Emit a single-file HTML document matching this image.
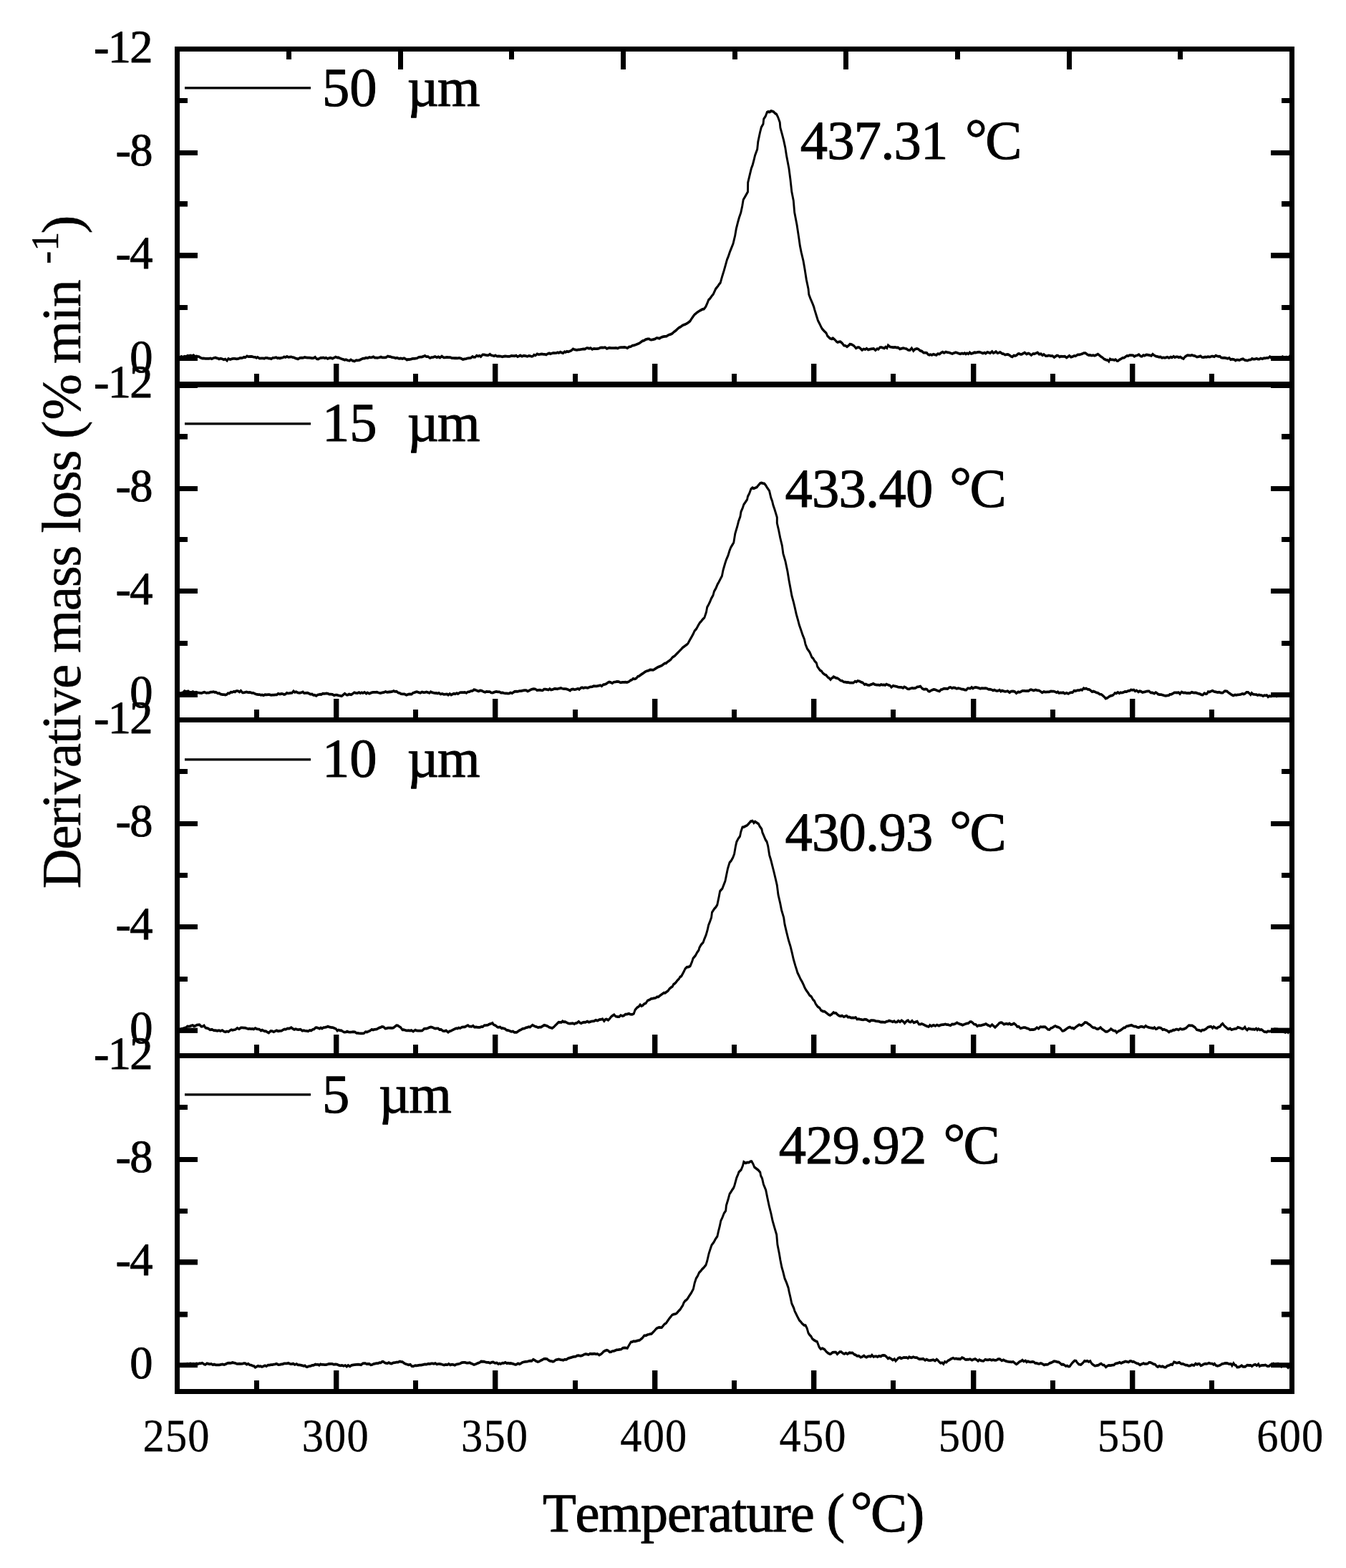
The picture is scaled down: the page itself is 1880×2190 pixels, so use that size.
<!DOCTYPE html>
<html lang="en"><head><meta charset="utf-8"><title>Derivative mass loss vs temperature</title>
<style>html,body{margin:0;padding:0;background:#fff}svg{display:block}text{font-family:"Liberation Serif",serif;fill:#000;font-kerning:none;font-variant-ligatures:none;text-rendering:geometricPrecision}</style></head><body>
<svg width="1880" height="2190" viewBox="0 0 1880 2190">
<rect width="1880" height="2190" fill="#fff"/>
<g fill="none" stroke="#000" stroke-width="2.9" stroke-linejoin="miter" stroke-miterlimit="3" stroke-linecap="butt">
<path transform="scale(1 1.3)" d="M251.0 384.23 253.2 382.95 255.2 383.61 257.8 382.77 259.9 383.24 262.0 382.14 264.1 382.36 265.9 381.95 268.1 382.44 270.3 381.58 272.7 383.16 274.4 382.67 276.2 383.03 277.8 383.23 280.3 384.44 282.7 385.10 284.2 384.98 286.9 385.37 289.5 385.34 291.8 385.27 294.0 384.89 295.7 385.62 297.3 384.98 299.4 384.41 301.0 384.18 302.4 384.67 304.5 385.03 305.9 385.73 308.1 385.13 310.2 385.55 312.6 386.44 314.7 385.82 317.1 387.47 318.9 385.37 321.4 386.21 323.5 385.67 325.3 385.30 327.9 385.28 330.6 385.70 333.2 385.24 335.5 384.50 337.3 384.66 339.2 384.33 341.0 383.71 342.6 384.06 345.0 382.60 347.0 383.24 349.5 383.07 351.5 383.05 354.1 383.50 356.6 383.76 358.1 384.55 359.8 383.72 362.5 385.08 364.6 384.96 367.3 384.83 369.2 385.17 370.8 384.50 373.0 384.57 375.5 385.02 377.3 385.11 379.0 385.62 380.8 384.52 383.4 384.39 385.9 384.01 387.5 384.90 389.4 384.53 390.9 385.00 392.5 384.50 395.0 384.24 396.7 383.40 398.9 383.80 400.9 382.90 402.6 383.77 405.0 383.47 406.7 383.31 408.9 384.01 410.6 384.09 412.6 384.99 414.3 385.20 416.1 385.69 418.8 384.58 421.3 384.37 423.1 384.56 425.7 383.87 427.4 384.06 429.4 384.38 432.0 384.26 434.1 384.59 435.9 384.90 438.5 384.48 440.3 383.62 442.2 385.56 444.5 385.77 446.4 385.04 448.3 384.32 449.9 384.48 451.5 384.13 453.8 384.78 455.5 384.40 457.6 385.38 459.7 384.71 461.7 384.45 464.4 385.29 466.4 384.52 468.6 383.51 471.3 384.29 472.5 384.06 474.6 384.79 477.1 385.60 479.8 386.21 481.5 386.73 483.2 386.24 485.5 387.11 488.1 387.59 490.0 386.44 492.6 387.61 495.2 388.17 497.4 387.01 499.3 387.20 500.9 387.07 502.4 386.80 505.0 385.75 507.0 385.14 509.2 385.07 511.1 384.36 513.6 384.75 515.8 383.82 517.7 384.06 519.4 383.87 521.7 383.26 523.3 384.30 525.0 384.39 527.2 384.47 529.7 384.04 532.0 383.50 533.9 384.07 536.4 384.09 538.2 384.07 539.7 383.79 541.6 382.67 543.6 383.09 545.1 383.11 546.8 383.72 548.6 384.01 550.9 384.23 552.6 384.89 554.5 384.41 557.2 385.27 559.8 385.02 562.1 385.51 564.4 384.82 566.7 385.71 568.3 386.61 569.8 386.05 571.4 386.27 574.0 385.92 576.4 385.31 578.9 385.35 580.4 385.10 582.7 384.82 585.0 383.76 587.3 383.61 589.1 383.53 591.7 382.82 593.5 382.13 595.4 383.17 598.0 383.20 600.5 384.66 602.9 383.94 605.2 383.67 607.7 383.01 610.2 383.99 612.2 383.27 614.5 384.30 617.1 382.71 619.7 384.08 621.7 384.17 624.1 383.71 626.6 383.99 628.9 384.02 631.1 384.64 633.1 384.67 635.2 384.81 637.4 384.75 639.1 384.87 641.3 384.56 644.0 385.14 646.5 386.10 649.0 385.64 650.9 385.42 653.4 384.82 655.4 384.62 657.7 384.48 660.0 383.06 661.7 383.79 664.0 383.66 665.6 381.98 667.8 382.73 669.8 382.20 671.6 383.23 674.0 381.11 676.1 381.08 678.4 381.48 680.9 381.74 682.7 381.49 684.3 380.55 686.0 381.65 688.4 382.12 690.1 382.57 691.8 381.78 694.3 382.82 696.6 382.66 699.0 382.70 701.5 383.27 703.1 382.97 705.5 382.70 707.2 382.84 709.2 383.05 711.7 382.99 714.4 382.22 716.9 382.37 718.7 382.50 721.0 381.88 722.9 383.22 724.6 382.73 726.7 381.85 729.1 382.86 731.7 382.14 734.1 382.38 736.7 382.99 738.6 382.19 740.2 382.34 742.4 383.03 744.2 382.75 745.8 381.29 747.9 381.92 750.2 380.19 752.3 380.88 754.0 380.71 756.6 380.23 759.4 380.60 761.3 380.65 762.9 381.13 764.4 380.33 767.0 379.44 768.6 380.20 770.9 379.59 773.0 379.10 775.0 379.32 777.4 379.06 779.0 378.61 780.5 379.16 782.7 378.07 784.1 378.74 786.5 379.37 788.5 377.81 790.0 378.44 791.8 377.55 793.9 377.91 795.9 377.26 798.1 376.61 800.4 374.87 802.9 375.72 805.7 376.05 808.0 375.67 809.7 375.59 811.8 375.38 813.4 375.12 814.9 374.84 817.1 375.02 819.4 373.96 821.2 373.92 822.9 374.42 824.9 373.94 827.2 375.31 829.4 374.49 831.5 374.67 833.9 374.75 835.8 374.54 838.4 373.56 841.0 373.45 842.6 373.52 845.2 373.18 847.6 374.60 849.2 374.07 851.3 373.66 853.6 373.96 856.1 373.88 858.1 374.02 860.3 373.73 862.8 374.27 865.3 373.30 867.9 373.18 869.9 373.11 872.3 372.95 873.9 373.29 876.3 373.94 878.8 372.51 881.0 372.37 883.4 371.20 885.3 371.13 887.8 370.43 890.4 369.58 893.2 368.70 895.6 367.30 897.5 366.28 899.6 365.94 901.9 364.63 904.7 364.16 906.8 364.10 908.2 364.90 910.3 365.07 912.4 364.63 915.0 364.17 916.9 363.19 918.5 363.10 921.1 363.63 922.5 362.93 925.0 362.00 926.7 361.59 928.7 361.35 931.1 361.18 932.7 360.28 934.7 359.64 936.8 359.13 939.1 358.27 941.3 356.59 943.6 355.41 946.1 353.55 948.3 352.13 951.0 350.98 952.6 349.99 954.2 349.21 956.8 348.62 958.6 347.79 960.6 347.01 963.9 344.98 965.9 342.53 968.2 339.93 970.2 337.89 971.4 337.16 973.4 335.79 976.3 334.34 978.3 333.45 980.7 332.44 983.4 331.89 985.9 329.27 988.2 325.22 989.6 322.32 991.8 320.61 994.1 318.09 996.3 315.96 998.5 312.29 999.6 310.41 1003.0 307.14 1004.6 305.22 1006.2 303.72 1008.8 296.67 1011.3 290.48 1013.4 284.72 1015.6 278.64 1017.3 275.48 1019.4 270.71 1021.3 266.96 1024.0 261.74 1026.7 253.07 1028.3 245.81 1030.4 239.28 1032.3 234.09 1034.8 228.38 1036.7 221.55 1038.2 214.57 1041.0 210.81 1044.5 205.98 1044.7 196.02 1047.3 187.58 1049.4 180.88 1051.2 177.25 1053.3 171.07 1054.6 166.94 1057.7 160.34 1058.8 152.26 1061.4 142.66 1063.3 136.81 1066.0 133.07 1066.7 127.89 1069.3 124.79 1071.3 120.67 1073.0 120.03 1075.1 120.33 1076.9 119.25 1078.5 119.46 1080.6 120.20 1082.9 121.99 1084.6 122.65 1086.6 125.82 1089.2 131.33 1089.9 137.13 1092.3 144.03 1094.7 151.10 1096.8 158.65 1098.6 167.51 1101.9 180.79 1103.9 192.56 1105.8 205.94 1108.3 215.65 1109.7 228.16 1113.1 241.79 1115.8 255.57 1117.4 264.29 1119.2 271.14 1122.0 280.23 1123.9 288.62 1126.3 300.36 1129.0 310.22 1129.8 316.39 1132.0 320.82 1135.0 326.26 1136.7 329.64 1137.8 332.74 1139.9 338.12 1142.4 344.28 1145.4 348.79 1146.3 350.46 1148.3 353.31 1151.2 355.79 1153.1 357.08 1154.4 358.41 1155.6 360.82 1159.1 363.54 1161.8 364.25 1163.3 363.31 1165.8 364.78 1168.4 367.09 1169.9 367.67 1172.0 367.20 1173.8 367.11 1176.0 368.49 1177.3 369.75 1178.6 371.14 1181.2 371.51 1183.0 372.58 1185.5 371.05 1186.9 369.80 1188.8 369.94 1190.7 370.51 1193.0 371.71 1195.5 374.05 1198.0 373.18 1199.8 373.21 1201.4 374.14 1204.1 376.08 1206.2 374.91 1208.6 375.39 1210.5 374.43 1212.5 375.75 1214.6 375.25 1216.7 374.97 1218.9 374.72 1220.4 374.55 1222.8 376.35 1225.2 374.62 1226.9 375.24 1229.1 373.12 1231.5 373.24 1233.5 373.81 1235.2 374.22 1236.9 372.73 1238.9 373.97 1240.4 370.91 1243.0 372.63 1245.6 373.07 1247.9 373.27 1250.3 373.06 1252.6 373.46 1254.6 373.40 1256.8 375.02 1258.9 374.50 1261.6 373.93 1264.1 374.44 1265.9 374.75 1268.5 376.11 1270.9 376.26 1273.3 373.97 1275.8 376.98 1277.8 375.23 1280.7 374.60 1282.8 375.16 1285.0 376.66 1288.1 377.55 1289.8 378.93 1292.1 378.98 1294.5 379.05 1296.0 380.66 1298.0 381.30 1299.9 380.86 1301.6 381.55 1303.4 380.51 1305.7 381.10 1308.0 381.48 1309.6 380.08 1312.4 380.38 1314.5 378.95 1316.6 378.12 1318.6 379.20 1321.0 378.04 1323.2 378.53 1325.2 378.67 1327.8 379.45 1330.1 380.07 1332.5 379.26 1334.9 378.59 1337.5 379.27 1339.0 379.74 1341.3 380.18 1343.7 379.50 1345.5 380.05 1347.5 379.37 1349.0 380.39 1350.8 379.48 1352.7 380.28 1354.4 378.63 1356.2 379.93 1358.7 379.48 1360.9 378.66 1363.0 378.84 1365.7 378.45 1367.8 378.21 1370.5 378.80 1372.8 379.67 1375.3 378.83 1376.8 379.82 1379.0 378.28 1381.5 378.93 1383.1 379.33 1385.7 377.69 1387.4 379.30 1389.4 378.65 1391.1 377.66 1393.2 379.45 1395.6 378.84 1396.8 378.40 1399.9 380.03 1401.5 380.05 1403.8 381.23 1406.0 380.94 1407.9 380.68 1409.7 381.50 1412.1 382.86 1414.0 383.37 1416.0 381.94 1418.6 382.20 1420.3 381.38 1421.8 380.21 1423.2 379.96 1425.3 380.61 1427.1 380.63 1429.4 379.66 1431.1 378.78 1433.8 380.46 1436.2 379.56 1437.8 380.00 1440.4 381.57 1443.1 379.99 1444.7 380.29 1447.2 379.47 1449.3 378.83 1451.3 380.54 1454.1 380.21 1456.0 381.72 1457.9 380.79 1460.5 382.42 1462.8 382.37 1464.9 381.85 1467.6 382.35 1470.1 382.41 1472.4 383.88 1474.0 383.05 1476.3 381.91 1478.3 382.33 1480.0 383.47 1481.5 382.86 1483.8 382.93 1485.6 383.03 1487.4 382.89 1489.8 384.31 1491.8 383.19 1493.6 382.15 1495.8 383.70 1497.9 383.21 1500.3 382.30 1502.3 382.60 1505.2 381.08 1507.6 381.06 1509.8 380.57 1511.6 380.12 1513.7 379.27 1516.1 379.29 1518.8 380.90 1520.7 381.52 1522.4 381.43 1524.7 381.93 1526.9 381.69 1529.0 382.16 1531.3 381.28 1533.5 380.39 1536.0 382.02 1538.0 383.32 1539.9 384.10 1541.8 385.58 1544.8 386.63 1547.2 386.97 1548.8 388.38 1550.4 385.69 1552.2 386.44 1554.2 386.37 1556.5 386.87 1558.1 386.23 1560.2 387.79 1561.8 387.67 1563.4 386.57 1565.7 385.62 1567.8 384.55 1570.2 384.32 1572.2 383.20 1574.1 382.24 1576.1 382.37 1577.7 381.60 1580.2 381.71 1582.7 381.86 1584.3 382.95 1585.9 382.29 1588.5 381.74 1590.7 380.94 1593.1 382.74 1594.9 382.97 1596.9 381.65 1598.8 382.17 1601.1 381.07 1603.1 381.19 1605.4 381.65 1608.2 382.25 1610.0 380.51 1612.2 381.84 1614.6 382.88 1617.1 383.15 1619.2 383.63 1621.1 383.43 1622.7 384.41 1625.3 384.09 1626.8 384.54 1628.4 384.10 1630.6 383.58 1632.7 384.53 1635.1 383.55 1636.9 384.14 1639.3 382.81 1640.8 384.04 1642.6 383.44 1645.0 383.41 1646.5 384.07 1648.6 383.44 1650.7 384.56 1653.1 385.36 1654.9 383.45 1656.7 382.48 1658.6 381.62 1661.2 381.76 1662.9 382.00 1664.6 381.43 1666.7 381.98 1669.0 382.32 1671.7 383.59 1674.2 383.20 1676.9 382.60 1678.8 383.84 1681.4 383.92 1683.2 383.34 1685.0 383.71 1687.1 383.22 1689.8 383.60 1692.3 382.74 1694.1 382.85 1696.1 383.30 1698.1 381.91 1699.8 382.47 1701.9 382.96 1703.9 382.89 1705.5 384.23 1707.8 384.44 1710.2 384.32 1712.3 384.77 1714.8 385.28 1717.1 384.51 1718.7 386.30 1721.1 385.87 1723.7 386.17 1725.6 387.38 1727.1 386.72 1729.1 386.62 1731.3 387.02 1733.5 386.05 1736.3 385.62 1738.5 386.85 1740.9 387.21 1742.5 387.45 1744.7 386.57 1747.1 386.46 1748.7 385.34 1750.3 385.86 1752.7 385.90 1755.3 385.15 1756.9 385.94 1759.1 385.88 1760.8 384.95 1763.2 385.61 1765.5 384.81 1767.3 384.96 1769.0 384.47 1771.5 384.58 1773.6 383.16 1776.0 384.81 1778.0 384.71 1779.9 385.55 1782.6 385.56 1784.9 385.21 1786.9 385.63 1789.1 383.90 1791.5 383.11 1793.8 385.04 1796.4 383.72 1798.4 385.82 1800.9 383.14 1801.0 385.62"/>
<path transform="scale(1 1.3)" d="M251.0 744.62 253.1 744.47 255.5 744.09 257.7 742.39 259.4 742.88 260.8 743.07 262.8 742.54 264.6 743.62 267.1 743.83 269.4 743.16 271.7 744.07 273.9 743.62 276.2 744.18 277.7 744.29 279.8 744.43 281.5 744.63 284.0 743.97 285.7 743.56 288.1 744.54 289.7 744.41 292.0 744.33 294.0 743.57 296.0 743.50 298.4 743.16 300.0 743.84 301.6 743.64 304.2 744.89 306.4 744.76 307.7 745.66 310.8 746.20 313.1 746.32 314.9 746.63 317.0 745.94 318.4 744.75 320.4 745.04 322.3 743.61 324.5 743.81 326.7 742.94 328.3 743.39 329.9 742.39 332.4 742.45 334.4 743.50 336.4 742.04 338.6 744.12 340.7 744.06 342.6 743.67 344.2 743.46 346.6 743.91 349.1 743.83 351.8 744.47 354.2 744.50 356.1 745.44 358.0 745.84 360.5 746.20 362.7 746.19 364.3 746.73 366.1 746.48 368.0 747.11 370.1 746.34 372.6 746.46 374.7 746.29 376.2 746.28 378.7 746.82 380.9 746.61 382.8 746.64 384.6 746.36 386.7 746.47 388.4 745.28 391.1 745.86 392.8 745.35 394.8 745.42 396.7 746.14 398.9 745.74 400.4 744.49 402.3 744.82 404.2 744.78 406.4 744.52 408.0 744.37 410.0 742.43 411.8 743.77 413.7 743.26 415.7 744.10 418.3 744.53 420.4 744.19 423.1 743.40 424.7 744.72 427.4 744.45 429.3 744.43 431.1 744.93 433.4 745.85 436.0 745.78 437.6 746.74 439.3 746.71 441.8 747.61 443.7 746.51 445.5 746.33 447.0 745.98 448.6 746.15 450.9 745.21 453.4 745.31 456.2 744.98 458.3 745.28 459.7 745.91 461.8 745.90 464.4 746.11 466.8 747.09 468.7 746.58 470.7 746.66 473.0 747.16 474.7 747.35 477.2 747.87 478.9 746.79 481.5 745.13 484.2 746.64 485.8 746.60 487.6 745.83 490.4 746.35 492.1 745.60 494.8 744.03 496.8 744.52 499.3 744.71 501.5 743.88 503.3 744.82 505.1 744.07 506.9 744.69 509.2 743.74 511.6 745.17 513.2 744.07 515.8 745.14 517.8 744.49 519.6 743.98 521.6 743.72 524.3 743.71 526.5 743.53 528.7 744.22 531.3 744.75 534.0 744.21 536.5 743.80 538.4 743.04 540.6 743.70 543.2 743.46 545.6 743.27 547.9 743.01 549.8 742.27 551.4 742.92 553.9 742.88 556.4 744.31 557.9 744.43 560.1 745.41 562.8 745.62 565.0 745.73 567.7 746.71 570.4 745.93 572.5 745.71 575.0 745.83 576.9 744.40 578.5 744.16 580.4 743.61 582.2 743.27 584.9 743.89 587.2 744.41 589.4 743.44 591.6 743.94 593.2 744.01 595.5 743.38 597.8 743.88 599.7 744.55 601.5 743.24 603.5 743.99 605.5 744.34 607.8 744.62 609.4 744.49 611.0 745.00 613.0 744.52 615.3 745.86 617.7 745.30 619.9 746.03 622.6 745.86 624.5 745.72 626.0 746.68 628.2 745.30 630.1 746.56 631.9 745.89 634.1 745.23 635.9 745.59 638.1 744.70 639.6 745.53 642.3 744.13 643.8 743.86 645.8 743.95 647.7 743.97 649.4 743.71 651.4 744.55 653.2 743.45 655.8 743.21 657.8 742.36 660.1 742.21 661.9 741.01 664.0 741.22 666.2 742.05 668.7 742.72 670.4 741.86 672.5 741.94 675.2 743.12 677.6 743.72 679.5 743.03 681.5 743.24 684.0 743.20 685.8 744.08 688.3 744.30 690.5 743.56 693.1 742.97 695.3 743.40 697.6 743.34 699.5 744.27 702.0 744.11 703.8 744.60 705.8 744.97 707.7 744.99 709.7 745.15 711.4 744.86 713.1 744.18 715.4 744.80 717.1 743.80 718.7 743.05 721.1 742.84 723.0 742.90 725.6 742.44 727.8 742.42 729.8 741.98 732.3 741.56 734.9 741.60 736.8 742.61 738.5 742.23 740.8 741.15 743.1 740.51 745.5 740.17 747.9 740.36 749.9 741.64 752.1 741.42 753.9 741.35 755.9 741.71 757.9 741.80 759.8 740.55 761.8 740.47 764.3 740.82 766.1 741.18 767.8 740.01 769.5 741.23 772.3 740.71 774.2 739.91 775.9 740.00 778.4 740.32 781.0 739.64 783.4 739.25 785.4 739.81 787.8 740.17 789.6 740.08 791.3 740.26 793.8 740.91 796.3 741.92 798.0 740.71 800.6 740.39 802.2 740.78 803.9 740.69 805.4 740.34 807.4 739.76 809.0 740.80 811.3 739.09 813.1 738.61 814.9 739.31 816.6 738.81 818.5 738.70 821.0 739.14 823.3 738.27 824.9 737.89 827.3 737.80 829.3 737.10 831.3 737.21 833.7 737.24 835.8 736.75 838.5 736.26 840.4 737.14 842.8 735.38 844.7 735.29 847.0 734.57 848.9 733.45 850.9 732.69 853.0 733.19 855.4 734.00 857.2 732.88 859.8 732.66 861.9 732.31 864.4 732.41 866.8 733.39 869.4 732.95 871.7 732.92 873.8 732.80 875.7 733.08 878.4 732.31 880.8 730.86 882.6 730.43 884.3 729.12 885.9 729.52 887.7 729.24 889.2 728.39 890.8 726.75 892.5 726.52 894.0 725.56 895.7 724.62 898.0 723.48 900.7 721.92 903.2 720.94 905.8 720.46 908.0 719.53 910.9 719.76 912.3 719.91 913.8 719.17 916.5 717.92 918.9 716.75 920.6 716.25 923.3 715.33 924.8 714.77 927.2 713.41 928.8 712.53 930.4 712.52 932.1 711.26 934.4 710.16 937.0 708.49 939.3 706.15 942.3 704.79 945.1 702.45 946.9 701.07 948.9 699.52 951.6 697.41 953.4 695.88 956.1 694.38 957.1 693.67 959.7 692.34 961.0 691.19 963.2 688.00 965.8 684.45 968.6 680.55 970.0 678.04 972.7 675.56 974.9 672.40 977.4 669.15 979.7 667.23 981.3 665.57 983.9 663.59 986.5 657.57 987.7 652.31 989.7 649.62 991.6 646.55 993.4 643.17 996.0 639.60 997.4 635.44 1000.0 631.90 1002.2 627.80 1004.0 625.40 1006.4 621.71 1008.4 618.88 1010.0 612.54 1012.7 605.42 1014.3 601.57 1017.0 596.70 1019.0 591.60 1020.7 588.22 1022.9 585.40 1024.8 582.92 1026.8 573.35 1030.0 564.98 1031.6 559.99 1033.9 555.05 1035.0 549.83 1037.3 545.66 1038.8 542.10 1041.2 539.43 1043.6 536.63 1044.4 533.53 1046.7 530.12 1048.9 525.41 1051.0 523.99 1052.9 524.75 1055.3 524.04 1057.3 523.36 1059.0 521.53 1061.7 519.22 1063.5 518.77 1065.9 519.26 1067.5 519.44 1069.2 521.08 1071.3 523.65 1074.6 527.38 1076.8 534.68 1078.6 538.46 1080.0 542.90 1081.9 547.15 1085.3 555.82 1085.3 561.96 1087.4 568.77 1089.7 577.76 1092.4 586.35 1093.9 594.89 1096.9 602.78 1100.0 614.05 1102.0 623.62 1104.3 633.06 1105.9 639.93 1108.2 646.34 1110.1 652.48 1112.2 659.72 1114.7 666.71 1116.3 671.42 1118.7 676.68 1121.1 682.26 1123.5 686.84 1125.0 692.14 1127.4 696.87 1130.8 700.54 1132.4 703.29 1133.9 706.13 1135.8 707.38 1137.8 710.20 1140.4 712.31 1141.7 716.21 1145.2 720.03 1147.8 721.32 1149.0 722.99 1152.1 724.87 1153.9 725.40 1156.5 727.80 1157.8 728.39 1160.0 730.22 1161.2 728.97 1163.3 727.77 1164.2 727.06 1166.0 727.77 1168.0 728.52 1169.4 728.58 1172.1 729.85 1174.0 731.15 1176.2 731.46 1178.4 732.60 1180.8 732.75 1182.7 733.18 1184.3 733.00 1186.8 733.50 1189.4 733.48 1192.0 733.60 1194.3 731.96 1196.2 732.63 1197.9 731.44 1200.7 731.95 1202.6 732.83 1205.1 733.43 1207.6 735.47 1209.3 735.00 1211.5 735.96 1214.1 736.22 1215.7 735.69 1217.9 735.15 1219.6 734.51 1222.1 735.42 1224.6 735.78 1227.0 735.85 1229.0 736.25 1230.5 735.45 1232.6 735.84 1234.5 735.69 1236.5 736.10 1238.1 735.03 1240.5 735.93 1243.0 736.46 1245.0 738.34 1247.5 736.68 1250.1 737.28 1252.3 737.53 1254.4 738.19 1256.9 738.42 1258.9 738.44 1261.4 739.11 1263.0 737.94 1265.5 738.79 1267.5 740.08 1269.8 740.26 1272.5 739.41 1274.3 739.19 1276.1 739.46 1278.9 739.20 1281.2 738.03 1283.4 737.82 1285.6 737.30 1288.0 739.64 1290.5 740.70 1293.0 740.36 1294.7 740.54 1296.6 742.47 1298.2 742.88 1299.9 742.19 1301.4 741.46 1304.0 740.67 1305.7 740.77 1307.9 741.48 1309.6 742.10 1312.3 742.68 1314.4 740.81 1316.1 740.63 1318.6 739.69 1321.3 739.92 1323.7 740.10 1325.7 738.70 1327.6 738.36 1329.8 739.45 1331.7 738.70 1333.9 738.99 1336.2 739.91 1338.6 739.32 1341.1 739.80 1343.5 740.53 1345.3 740.48 1347.7 741.23 1349.8 741.21 1351.5 739.50 1353.0 739.45 1355.3 739.67 1357.2 738.37 1358.8 739.63 1360.9 738.67 1362.9 738.39 1364.8 738.72 1367.0 739.16 1369.1 739.82 1371.2 739.34 1373.9 739.58 1376.5 739.42 1378.4 739.71 1380.9 740.73 1382.7 740.55 1385.4 741.10 1387.0 741.90 1388.9 741.16 1391.5 742.29 1393.8 742.23 1396.1 741.31 1397.9 742.84 1399.5 741.97 1402.2 742.61 1403.8 742.95 1405.6 742.84 1407.5 742.50 1410.1 744.00 1412.2 742.73 1415.0 742.67 1417.4 743.16 1419.5 744.79 1422.2 743.35 1423.5 743.72 1425.5 743.33 1428.0 742.23 1430.8 742.22 1432.9 742.35 1435.0 742.15 1436.8 742.39 1438.6 741.13 1440.1 740.85 1441.8 741.36 1443.8 742.00 1446.4 741.16 1449.1 741.84 1451.2 741.87 1453.5 743.02 1455.6 744.16 1457.9 743.13 1460.3 743.57 1463.0 743.44 1465.5 743.34 1467.7 742.58 1469.9 742.82 1471.7 742.72 1473.7 743.30 1475.9 743.99 1477.5 743.30 1479.1 744.60 1481.3 744.24 1482.8 744.36 1485.2 744.08 1487.2 745.22 1489.8 744.45 1492.1 745.41 1494.2 744.26 1496.4 743.96 1498.2 744.01 1500.0 742.14 1502.6 742.30 1505.1 741.58 1507.6 741.69 1509.7 740.94 1511.5 741.45 1513.5 739.37 1515.3 740.07 1517.0 739.62 1519.4 740.72 1521.1 740.73 1522.8 741.42 1525.3 743.20 1527.1 742.74 1529.9 743.45 1531.5 744.19 1533.1 744.37 1536.0 745.80 1538.1 745.95 1540.2 747.25 1542.7 748.95 1544.2 750.44 1546.8 749.82 1549.1 748.36 1551.6 747.41 1553.0 747.38 1555.2 746.53 1557.1 744.61 1558.9 744.95 1561.4 743.81 1563.4 744.86 1565.0 744.04 1566.7 744.26 1568.6 744.00 1571.2 743.00 1573.6 743.17 1576.0 742.29 1577.9 742.15 1579.5 741.09 1582.0 741.36 1583.7 741.08 1585.4 742.62 1587.5 741.77 1590.0 743.46 1591.7 742.51 1593.5 742.78 1595.6 743.86 1597.5 743.53 1599.8 743.15 1601.4 742.70 1603.3 742.53 1605.0 742.54 1607.1 744.16 1609.6 744.23 1612.2 745.16 1614.3 743.87 1616.2 744.78 1617.2 745.71 1619.4 746.27 1621.9 746.32 1624.7 746.95 1626.0 747.24 1628.1 747.55 1630.7 747.21 1632.7 747.04 1633.8 746.02 1635.8 745.98 1638.4 745.06 1640.1 744.10 1642.5 744.08 1644.2 744.23 1646.4 744.03 1648.1 745.48 1650.3 743.40 1652.7 744.25 1655.3 744.11 1657.4 744.75 1660.0 744.52 1661.9 744.82 1664.6 743.68 1667.3 744.26 1670.0 744.23 1671.5 744.53 1673.4 745.18 1675.7 745.48 1678.3 746.38 1680.0 746.59 1682.2 744.80 1684.4 745.57 1686.1 745.11 1687.4 743.12 1689.2 743.53 1690.9 742.83 1693.5 742.07 1695.7 742.93 1698.0 743.35 1701.0 743.92 1702.7 743.59 1705.3 744.33 1707.9 744.36 1710.3 742.60 1711.5 742.36 1714.0 742.79 1715.9 744.21 1717.9 745.19 1720.1 746.31 1722.5 747.36 1725.0 746.44 1727.0 746.78 1728.8 746.37 1731.1 746.25 1732.8 746.02 1735.3 745.39 1737.1 745.73 1739.3 744.99 1740.9 743.79 1743.4 743.76 1745.1 744.97 1746.8 746.38 1748.2 744.54 1750.0 745.87 1752.1 746.05 1755.0 746.23 1756.3 746.99 1758.4 746.41 1760.4 746.74 1762.2 746.99 1764.1 747.83 1765.8 747.06 1767.7 747.27 1769.5 746.94 1771.1 748.74 1772.9 747.72 1775.5 748.17 1777.8 746.80 1780.5 746.57 1783.0 747.96 1785.4 745.74 1787.1 745.41 1788.8 746.18 1791.5 747.23 1793.8 746.23 1796.2 745.95 1797.8 746.33 1800.2 746.26 1801.0 746.00"/>
<path transform="scale(1 1.3)" d="M251.0 1106.15 252.8 1105.53 255.0 1105.18 257.4 1104.52 259.9 1103.94 261.6 1102.62 263.4 1102.80 265.1 1102.61 266.9 1102.07 269.3 1101.50 271.0 1102.58 273.1 1102.04 274.9 1101.25 276.7 1101.09 278.7 1100.91 281.2 1102.93 283.5 1102.65 285.1 1101.82 286.9 1104.18 288.6 1104.47 291.1 1105.03 293.3 1106.36 296.0 1105.99 298.6 1107.08 300.9 1107.12 303.4 1107.48 306.1 1107.05 307.9 1107.66 310.4 1106.88 312.4 1108.06 315.0 1108.65 317.0 1108.08 319.1 1108.49 321.1 1107.24 323.1 1106.26 324.9 1106.75 326.1 1106.55 328.7 1106.16 331.4 1104.56 334.0 1105.52 336.4 1104.21 338.5 1104.12 341.0 1104.31 342.6 1104.40 344.9 1104.98 346.9 1105.46 348.6 1105.20 350.3 1105.45 352.7 1105.34 354.4 1105.80 356.5 1104.72 358.7 1105.42 360.5 1105.74 362.2 1105.78 364.5 1107.35 366.2 1106.53 367.9 1107.36 369.9 1107.99 371.4 1107.83 373.3 1108.96 375.4 1109.68 378.0 1107.71 380.1 1107.85 382.4 1108.69 385.0 1107.50 386.6 1107.16 388.3 1107.87 390.7 1107.51 393.5 1107.34 395.7 1106.27 397.2 1105.77 399.0 1105.99 401.8 1104.88 404.2 1105.05 406.8 1103.97 408.5 1104.99 411.0 1106.10 412.9 1105.57 415.2 1106.12 416.8 1106.17 419.8 1105.95 422.2 1107.56 424.1 1107.10 425.9 1107.43 428.5 1107.68 430.4 1107.99 432.6 1106.93 434.5 1107.25 436.9 1105.94 438.8 1105.76 440.7 1104.09 442.4 1103.95 444.7 1104.62 446.4 1105.10 448.1 1104.18 449.7 1105.05 452.0 1103.94 454.1 1103.81 456.3 1103.38 458.0 1102.69 459.8 1103.42 462.0 1103.74 463.4 1103.95 464.8 1103.92 467.5 1104.80 469.3 1105.46 471.1 1107.49 472.9 1106.49 475.1 1107.12 476.6 1107.00 478.8 1108.18 480.8 1108.97 483.3 1108.85 484.8 1108.10 486.7 1108.75 488.8 1109.01 491.4 1108.82 493.5 1108.54 495.7 1108.68 498.0 1109.97 499.7 1109.98 501.3 1110.18 503.6 1110.31 506.0 1110.20 508.3 1110.18 510.4 1108.55 512.6 1108.83 514.9 1108.06 517.0 1107.39 519.2 1105.98 521.0 1106.59 522.7 1106.07 524.9 1105.88 526.3 1105.75 528.2 1104.85 530.0 1104.16 531.8 1103.74 533.5 1103.05 535.8 1103.34 538.1 1104.98 539.6 1104.92 542.0 1104.33 543.8 1104.35 545.8 1104.42 547.9 1104.48 549.7 1104.15 551.9 1102.78 553.7 1101.71 555.6 1101.75 557.8 1102.99 559.7 1103.96 562.0 1106.34 563.8 1106.21 565.7 1106.73 567.5 1107.22 569.1 1107.13 570.8 1107.03 572.8 1107.41 574.6 1106.98 577.2 1108.19 580.1 1106.53 581.7 1107.21 583.7 1107.36 585.4 1107.35 587.9 1107.39 589.8 1107.30 592.4 1105.33 594.6 1105.07 595.9 1105.09 597.6 1104.61 599.4 1103.96 601.9 1103.40 603.6 1103.71 605.7 1104.49 607.6 1105.11 609.4 1104.85 612.1 1104.84 613.7 1106.16 616.2 1106.08 618.6 1107.54 621.1 1107.78 623.1 1107.22 626.0 1109.05 627.9 1107.96 630.1 1107.55 632.4 1106.47 634.9 1105.55 637.2 1104.76 639.2 1105.10 640.5 1104.24 642.8 1104.67 645.2 1103.50 647.5 1103.33 649.3 1103.28 652.0 1102.15 653.7 1101.58 655.4 1102.82 657.0 1102.80 658.5 1102.94 660.9 1102.12 662.5 1103.50 664.8 1103.39 667.4 1103.83 670.2 1103.73 672.7 1103.01 674.3 1103.14 676.6 1101.54 679.6 1101.48 681.4 1101.24 683.7 1100.33 685.5 1099.96 687.9 1099.07 689.1 1100.73 692.4 1101.82 694.4 1103.25 695.7 1103.66 698.6 1103.43 700.5 1104.76 702.0 1104.48 703.5 1104.98 705.2 1105.22 707.3 1106.61 709.9 1107.08 711.7 1107.53 714.0 1108.31 716.6 1108.07 718.4 1109.09 721.6 1109.11 723.9 1107.89 726.0 1106.78 727.7 1106.38 729.8 1105.30 732.7 1104.96 734.4 1104.13 736.0 1104.00 738.2 1103.22 740.4 1103.55 741.8 1102.47 743.8 1101.31 745.7 1102.03 748.3 1103.00 749.8 1103.24 751.5 1103.94 753.6 1103.63 755.8 1103.51 758.2 1102.36 760.1 1101.41 762.4 1101.80 764.8 1102.45 766.5 1103.42 769.3 1104.20 771.4 1104.60 773.7 1103.31 775.6 1101.65 777.4 1100.38 780.1 1098.23 781.7 1098.42 784.3 1098.32 785.8 1097.15 787.3 1097.86 789.6 1097.73 792.2 1098.94 794.0 1099.62 796.0 1099.79 798.4 1099.51 800.0 1099.42 802.4 1100.21 803.7 1099.27 805.6 1099.13 808.3 1097.53 810.1 1098.80 811.9 1099.39 813.4 1098.74 815.7 1098.24 817.8 1098.34 820.3 1097.39 822.7 1098.27 824.4 1097.72 827.1 1097.13 829.8 1096.94 832.1 1096.00 834.7 1096.62 837.0 1095.55 839.3 1095.38 841.6 1094.78 843.8 1096.99 845.6 1095.24 847.2 1095.00 849.6 1096.00 851.7 1094.33 853.5 1092.51 855.3 1091.28 857.8 1090.19 859.9 1091.99 862.5 1092.37 864.9 1092.47 866.9 1090.78 869.4 1091.56 871.5 1091.08 873.5 1089.78 875.6 1089.76 878.4 1088.99 880.2 1089.68 882.9 1089.82 885.3 1089.03 887.0 1085.11 889.8 1082.52 892.4 1081.24 894.1 1079.46 895.8 1080.82 897.7 1080.23 899.7 1078.54 902.1 1077.86 904.4 1075.05 907.5 1074.10 909.5 1072.94 911.5 1072.76 913.7 1072.46 915.8 1072.15 917.6 1071.01 919.8 1071.03 921.1 1070.00 923.1 1068.91 924.5 1068.15 927.2 1066.68 929.1 1066.74 932.0 1065.15 933.3 1064.23 934.9 1062.46 937.8 1060.59 939.3 1059.88 940.6 1057.69 942.8 1056.47 944.3 1055.22 946.2 1053.30 948.3 1051.73 949.8 1049.65 951.7 1048.78 954.3 1045.05 955.6 1043.17 956.9 1040.90 959.2 1039.10 962.1 1038.70 964.1 1037.85 966.6 1033.19 968.0 1029.75 971.3 1026.73 973.6 1023.35 976.1 1020.64 976.8 1018.29 979.0 1015.27 982.2 1012.42 983.4 1009.71 986.2 1004.39 988.2 999.01 989.6 993.98 991.3 990.73 993.6 985.79 994.5 980.20 997.7 976.43 999.9 974.54 1001.8 972.14 1004.2 963.30 1005.6 957.54 1009.0 954.55 1010.3 951.78 1012.9 946.65 1014.4 940.97 1016.5 933.12 1019.0 926.74 1021.4 924.58 1023.8 921.27 1025.6 917.46 1027.5 908.99 1028.8 904.52 1031.0 901.20 1033.5 898.58 1034.8 893.74 1036.9 888.85 1039.4 888.33 1041.5 887.55 1043.7 886.71 1045.2 885.40 1047.7 883.23 1048.3 882.54 1051.1 881.99 1052.9 884.07 1054.6 882.67 1057.1 883.89 1059.5 885.19 1061.1 887.72 1063.9 890.80 1064.9 894.47 1066.8 897.77 1069.2 902.19 1071.1 904.42 1072.7 908.97 1074.7 918.74 1076.7 923.81 1078.5 929.34 1080.7 935.98 1083.5 945.03 1085.3 951.06 1087.0 961.34 1089.7 970.33 1091.6 977.81 1094.7 985.91 1096.0 992.96 1098.5 1001.19 1101.4 1010.17 1104.0 1016.55 1106.1 1023.22 1108.4 1030.98 1110.9 1037.62 1112.9 1042.41 1113.8 1044.86 1116.4 1048.97 1118.0 1051.79 1120.4 1054.96 1122.1 1057.60 1123.8 1060.73 1125.7 1063.53 1128.7 1066.79 1130.7 1069.26 1133.2 1070.66 1135.6 1073.97 1137.5 1075.45 1139.2 1078.38 1142.1 1081.57 1144.9 1083.00 1146.6 1085.33 1149.5 1086.59 1151.6 1086.66 1154.2 1088.13 1155.0 1088.64 1157.5 1090.24 1159.5 1090.71 1161.7 1089.68 1164.2 1087.69 1165.5 1088.34 1167.6 1088.40 1169.8 1090.09 1171.9 1091.24 1174.4 1091.75 1176.0 1091.24 1178.7 1092.50 1180.6 1091.79 1182.6 1091.37 1184.4 1092.91 1186.3 1092.65 1188.8 1093.56 1191.0 1093.38 1193.2 1093.61 1195.3 1093.08 1196.9 1095.03 1199.3 1094.77 1201.2 1095.14 1203.8 1095.45 1205.9 1095.62 1207.9 1095.18 1210.4 1095.45 1212.0 1096.28 1214.8 1097.38 1216.4 1096.25 1219.0 1096.21 1221.2 1096.51 1223.2 1097.06 1225.8 1097.18 1227.9 1097.43 1230.1 1098.14 1231.6 1098.00 1234.1 1098.17 1236.3 1098.38 1238.1 1097.46 1239.7 1097.45 1241.8 1096.57 1244.4 1097.12 1246.9 1097.81 1249.0 1097.02 1250.5 1098.17 1253.0 1097.97 1254.7 1096.75 1257.1 1097.86 1259.2 1096.33 1261.9 1097.80 1263.5 1099.33 1266.1 1097.13 1268.4 1096.31 1269.9 1097.92 1272.0 1098.16 1274.0 1096.68 1276.3 1098.73 1278.9 1097.99 1281.2 1097.44 1283.3 1100.29 1285.6 1100.48 1287.3 1099.99 1289.5 1100.60 1290.9 1101.14 1292.9 1101.89 1295.1 1102.66 1297.2 1103.11 1298.8 1101.46 1301.0 1102.58 1302.5 1101.77 1304.1 1101.41 1306.4 1102.25 1308.7 1101.10 1311.5 1102.07 1313.6 1101.25 1316.5 1100.83 1318.0 1100.91 1320.3 1100.37 1322.5 1100.80 1324.2 1100.88 1325.9 1101.38 1327.7 1101.78 1329.7 1100.39 1332.2 1100.48 1334.5 1099.82 1336.7 1098.71 1338.1 1099.36 1340.8 1100.27 1342.8 1100.71 1344.4 1101.32 1346.8 1100.61 1348.7 1100.04 1350.7 1099.51 1352.6 1099.32 1354.9 1097.83 1356.7 1097.79 1358.4 1098.68 1360.4 1100.41 1362.8 1100.59 1365.0 1102.47 1367.1 1101.62 1369.6 1101.89 1371.4 1101.42 1373.1 1100.98 1375.0 1100.64 1377.1 1099.98 1379.5 1101.26 1381.9 1102.03 1383.1 1102.65 1385.7 1100.77 1387.7 1102.23 1389.9 1103.75 1391.9 1102.26 1394.2 1100.61 1395.7 1099.14 1398.0 1098.64 1399.5 1098.76 1402.2 1100.50 1404.1 1100.04 1405.9 1099.73 1408.1 1100.37 1409.9 1099.59 1411.8 1100.75 1414.2 1100.44 1416.3 1099.47 1419.2 1101.30 1420.6 1102.90 1422.9 1102.81 1425.3 1104.86 1427.5 1104.44 1429.5 1104.02 1432.0 1103.96 1434.2 1104.78 1437.0 1105.41 1438.7 1106.39 1441.2 1106.13 1443.3 1106.28 1445.7 1105.73 1448.2 1103.97 1450.7 1105.15 1453.0 1103.21 1455.5 1103.35 1458.1 1103.13 1460.0 1103.39 1462.0 1104.73 1463.5 1105.99 1465.9 1106.27 1467.8 1104.56 1469.7 1104.26 1472.7 1102.69 1474.1 1102.25 1476.0 1103.18 1477.9 1103.53 1480.1 1104.29 1481.5 1105.32 1483.7 1107.51 1485.8 1107.35 1488.3 1106.14 1490.4 1104.92 1492.5 1103.90 1494.4 1103.47 1496.6 1104.49 1498.4 1104.40 1500.0 1105.22 1502.2 1103.77 1503.9 1102.71 1506.4 1101.38 1507.4 1100.89 1510.5 1101.75 1511.8 1101.10 1513.5 1099.95 1515.3 1098.45 1517.9 1098.73 1520.3 1100.19 1522.9 1101.37 1524.8 1102.95 1527.1 1104.21 1529.2 1104.14 1531.5 1105.26 1533.4 1105.56 1535.0 1104.95 1537.2 1103.87 1539.1 1105.45 1542.0 1107.04 1544.2 1108.34 1546.6 1108.35 1548.5 1107.41 1550.0 1106.66 1551.6 1105.38 1554.4 1106.87 1556.0 1107.38 1558.1 1107.56 1559.6 1109.47 1562.2 1107.82 1565.0 1106.94 1567.2 1105.72 1569.7 1104.16 1571.4 1104.12 1573.4 1102.50 1575.1 1102.41 1577.9 1101.83 1580.7 1101.38 1582.2 1102.20 1584.4 1102.85 1586.4 1102.77 1588.2 1103.64 1590.5 1103.95 1592.4 1103.19 1594.4 1102.82 1596.6 1103.37 1598.2 1103.71 1600.2 1102.12 1602.4 1103.30 1605.1 1103.93 1606.6 1104.17 1609.2 1104.50 1610.8 1104.75 1612.5 1103.84 1614.4 1105.58 1616.2 1105.17 1617.7 1104.12 1620.0 1104.15 1622.2 1104.78 1623.8 1106.25 1625.8 1105.86 1627.6 1106.56 1629.7 1107.06 1632.7 1108.84 1634.6 1107.85 1636.3 1107.75 1638.8 1106.59 1640.2 1106.85 1642.5 1105.89 1644.3 1105.88 1646.2 1106.54 1648.4 1105.16 1650.5 1105.78 1651.9 1105.85 1653.8 1105.43 1656.3 1104.64 1658.0 1103.39 1660.4 1101.62 1663.0 1101.82 1665.2 1101.77 1667.3 1102.88 1669.5 1104.02 1671.3 1106.26 1673.4 1106.70 1675.6 1107.08 1677.7 1107.76 1679.0 1106.65 1681.7 1106.62 1684.8 1105.23 1687.0 1103.61 1689.3 1103.14 1691.5 1102.79 1693.6 1104.54 1695.1 1103.08 1697.9 1104.43 1699.9 1104.60 1701.4 1103.69 1704.2 1102.86 1705.4 1101.36 1707.7 1099.82 1710.3 1102.33 1712.5 1103.67 1714.8 1105.34 1716.3 1105.63 1718.1 1104.90 1720.0 1106.38 1722.5 1105.77 1725.2 1105.20 1727.0 1105.13 1728.8 1103.66 1730.9 1104.08 1733.4 1104.77 1735.2 1105.35 1736.9 1105.03 1738.8 1103.51 1740.4 1105.71 1742.0 1106.61 1743.8 1105.08 1746.2 1105.47 1748.8 1105.87 1750.4 1105.70 1752.3 1106.09 1754.6 1105.05 1756.1 1106.48 1757.7 1105.29 1759.8 1106.50 1762.0 1106.16 1763.8 1107.21 1765.9 1108.51 1767.4 1108.61 1769.3 1108.94 1771.0 1107.82 1772.7 1108.11 1774.3 1108.05 1776.8 1107.18 1778.3 1106.28 1780.3 1105.45 1782.0 1105.68 1783.8 1105.67 1786.2 1106.19 1788.8 1107.09 1791.5 1107.46 1793.4 1108.64 1795.5 1109.29 1797.6 1108.21 1799.2 1109.34 1801.0 1107.15"/>
<path transform="scale(1 1.3)" d="M251.0 1466.15 252.8 1466.85 255.0 1466.07 257.2 1465.58 259.9 1465.47 261.5 1465.12 263.5 1465.51 265.9 1464.96 268.2 1465.53 270.0 1465.07 272.3 1465.67 274.4 1464.89 276.7 1465.34 278.4 1464.78 280.1 1464.90 282.7 1464.40 284.8 1465.60 286.7 1466.19 289.0 1464.86 291.3 1465.26 292.8 1465.64 295.1 1465.35 297.5 1466.37 299.0 1465.82 301.4 1466.43 303.1 1466.51 305.0 1466.42 306.5 1466.50 308.3 1466.09 310.9 1465.77 313.0 1466.22 315.5 1465.47 317.6 1464.54 319.9 1464.42 322.5 1464.52 324.7 1463.87 326.5 1464.20 328.4 1464.47 330.8 1465.22 332.5 1465.23 334.1 1465.10 336.7 1465.21 338.9 1465.03 340.5 1464.79 342.6 1464.66 344.4 1465.86 346.9 1465.25 348.7 1466.38 350.6 1466.60 353.0 1467.37 354.6 1467.61 356.4 1469.15 358.0 1468.48 360.4 1467.44 362.0 1467.91 364.2 1467.75 365.8 1468.53 367.8 1467.89 370.1 1467.12 372.1 1467.84 374.3 1466.68 376.4 1466.65 378.4 1466.20 380.6 1466.19 382.3 1465.85 384.3 1465.68 386.2 1465.17 388.7 1466.23 391.3 1466.06 392.9 1465.66 394.6 1465.68 396.8 1464.90 399.1 1464.83 400.6 1464.89 402.9 1464.46 405.6 1465.55 407.6 1465.43 409.5 1465.04 411.7 1466.17 414.3 1465.40 416.2 1466.50 418.1 1466.49 419.8 1466.59 421.9 1466.96 424.2 1467.51 425.9 1467.17 428.0 1468.51 429.4 1468.55 431.2 1467.86 433.8 1467.54 436.1 1466.86 438.0 1466.77 440.6 1465.80 442.5 1466.14 444.4 1466.10 445.9 1466.74 447.6 1465.67 449.3 1466.06 451.0 1466.13 453.7 1466.32 455.4 1466.19 457.2 1465.85 459.4 1465.38 462.2 1465.35 463.9 1465.35 466.3 1466.08 468.3 1465.67 470.5 1465.78 472.8 1466.59 475.3 1467.20 477.7 1466.78 479.8 1467.48 482.3 1466.92 484.2 1468.18 486.2 1466.88 488.8 1468.08 491.0 1466.84 493.5 1466.42 495.2 1466.23 498.0 1465.98 500.1 1465.89 501.9 1466.08 504.4 1466.38 506.6 1464.91 508.5 1464.72 510.3 1464.67 511.9 1465.49 513.7 1465.38 516.0 1465.37 517.7 1466.45 519.5 1466.32 521.6 1465.44 523.7 1465.07 525.7 1464.73 528.1 1464.72 529.9 1464.02 531.9 1464.15 533.9 1462.87 535.5 1463.02 537.3 1464.09 539.0 1464.44 541.3 1464.70 543.0 1463.86 545.3 1464.87 547.1 1464.99 549.3 1464.07 551.6 1464.02 553.5 1463.61 556.1 1463.49 558.5 1462.63 560.5 1463.15 562.2 1463.13 563.9 1464.29 565.9 1465.21 568.2 1465.77 570.7 1466.47 573.3 1465.95 574.8 1467.65 577.1 1468.01 579.8 1466.98 581.9 1467.23 583.5 1466.99 586.0 1466.67 588.1 1466.69 590.7 1466.22 593.3 1465.75 595.8 1465.78 598.4 1465.09 600.1 1465.48 602.4 1464.89 604.3 1464.95 605.9 1465.21 608.0 1464.68 610.2 1465.82 611.8 1465.38 613.7 1465.25 616.2 1465.60 618.3 1466.16 620.3 1466.58 622.2 1466.12 624.9 1466.23 626.7 1465.35 629.0 1466.47 631.3 1465.82 632.7 1466.03 635.4 1466.70 637.3 1465.86 639.8 1465.56 642.5 1464.99 645.0 1463.99 647.7 1463.72 649.6 1463.83 651.6 1464.33 653.8 1464.34 656.2 1464.01 657.7 1464.77 659.3 1465.18 662.0 1466.17 664.6 1465.62 666.9 1464.69 669.9 1463.85 671.8 1462.71 674.2 1462.88 676.0 1462.79 678.8 1463.62 680.1 1463.69 682.4 1463.74 684.5 1464.44 687.0 1463.62 689.0 1463.48 691.4 1464.51 694.0 1464.19 696.0 1465.43 697.7 1464.86 699.2 1465.37 701.8 1464.29 703.8 1464.47 705.8 1463.77 707.9 1464.83 709.6 1464.32 711.4 1464.79 713.1 1464.63 715.0 1464.87 717.5 1465.45 719.3 1466.12 720.9 1466.12 723.5 1464.83 725.6 1465.59 727.1 1465.07 729.3 1463.88 731.8 1463.25 733.9 1462.93 736.6 1462.73 738.6 1462.29 740.4 1461.99 742.8 1462.09 744.8 1460.46 747.2 1461.57 748.6 1462.27 751.1 1463.08 753.3 1462.73 755.2 1461.66 757.1 1461.07 759.3 1460.10 761.4 1459.81 764.2 1460.11 766.1 1461.38 768.3 1462.19 770.5 1462.40 772.3 1462.88 774.3 1462.31 775.9 1461.16 778.6 1460.63 780.4 1460.24 783.0 1460.81 785.1 1461.01 786.9 1461.37 788.9 1460.49 791.2 1460.71 793.2 1459.48 795.3 1459.00 797.4 1458.52 800.3 1457.79 801.9 1457.57 804.2 1457.45 805.6 1456.65 807.8 1456.24 809.2 1456.49 811.0 1456.73 813.3 1456.26 815.9 1455.19 817.8 1454.79 819.7 1454.88 821.9 1455.45 824.1 1454.42 826.0 1454.61 827.9 1454.61 830.4 1454.40 832.6 1454.90 834.5 1454.54 837.0 1455.88 839.7 1454.71 841.7 1453.37 842.6 1452.30 845.0 1451.21 847.7 1450.47 849.8 1451.30 851.4 1452.55 853.7 1452.44 854.9 1451.72 857.6 1451.46 859.5 1450.91 861.1 1450.22 863.8 1450.05 865.3 1449.83 867.8 1449.63 869.7 1448.34 872.1 1447.96 874.6 1448.24 876.3 1448.51 878.4 1445.52 881.2 1441.88 883.0 1441.58 885.3 1440.97 886.8 1441.21 889.1 1440.65 891.8 1440.03 893.3 1439.99 895.5 1438.61 897.1 1437.64 899.8 1434.98 902.2 1434.88 904.7 1433.84 906.0 1433.66 908.5 1433.11 910.1 1432.94 912.1 1431.36 913.7 1430.08 917.0 1427.25 918.3 1426.71 920.5 1426.15 922.5 1426.26 924.3 1426.29 925.7 1424.96 928.0 1422.67 930.6 1421.42 932.6 1419.08 935.2 1416.14 937.2 1414.41 938.8 1412.72 941.2 1411.96 943.9 1411.58 945.4 1410.72 948.1 1408.30 950.1 1406.81 952.0 1404.38 953.8 1402.24 955.0 1399.73 957.0 1397.56 958.7 1396.69 960.3 1395.36 962.5 1392.53 965.5 1389.12 968.4 1384.84 970.2 1378.45 972.3 1373.50 974.4 1370.91 976.5 1367.39 979.0 1365.37 980.2 1363.99 982.9 1361.93 986.0 1359.03 987.7 1354.76 990.1 1346.79 992.7 1340.66 994.0 1337.69 997.1 1334.43 999.0 1331.63 1001.9 1328.32 1003.5 1322.72 1005.3 1317.22 1006.8 1311.64 1008.9 1308.17 1011.3 1303.43 1013.7 1300.69 1014.4 1295.18 1017.2 1288.07 1019.1 1282.61 1020.8 1280.87 1022.6 1278.51 1024.5 1276.40 1025.9 1273.65 1028.8 1265.40 1031.0 1261.40 1031.9 1259.33 1035.2 1256.76 1037.5 1252.30 1038.8 1248.38 1041.6 1249.55 1043.3 1248.97 1045.9 1248.98 1048.4 1247.79 1049.9 1247.77 1052.0 1250.73 1053.7 1253.96 1056.0 1255.25 1059.2 1257.18 1061.8 1259.55 1062.6 1263.01 1064.6 1266.25 1066.4 1272.42 1069.7 1278.62 1071.9 1287.10 1074.4 1296.11 1077.0 1304.04 1079.1 1311.71 1081.8 1319.00 1084.7 1326.59 1085.9 1337.03 1088.4 1346.81 1089.9 1353.73 1091.9 1361.44 1093.7 1366.31 1096.0 1373.40 1098.7 1378.43 1101.1 1383.63 1102.2 1387.89 1104.0 1393.83 1105.8 1400.35 1108.8 1405.53 1110.0 1408.57 1112.5 1412.50 1113.7 1414.47 1116.4 1418.37 1118.7 1420.34 1120.6 1422.22 1123.1 1423.79 1125.1 1423.93 1127.2 1427.18 1129.0 1432.13 1130.9 1434.27 1132.9 1435.84 1134.6 1438.33 1137.1 1439.84 1139.2 1440.78 1141.4 1441.61 1144.1 1447.18 1146.3 1449.35 1148.8 1448.65 1151.8 1449.90 1154.1 1452.22 1156.8 1453.90 1158.9 1454.65 1160.2 1454.62 1162.9 1452.91 1165.2 1452.71 1167.5 1452.77 1169.4 1454.81 1171.1 1453.63 1172.8 1452.42 1175.1 1452.39 1177.0 1453.78 1179.1 1454.65 1181.5 1453.74 1183.7 1454.68 1186.4 1453.29 1188.9 1453.55 1190.7 1453.42 1193.5 1455.36 1195.1 1455.61 1197.0 1456.84 1199.6 1456.67 1202.1 1458.32 1204.3 1457.73 1206.8 1456.44 1208.5 1457.65 1210.3 1458.28 1211.9 1457.32 1214.4 1457.10 1216.2 1457.47 1217.9 1455.83 1220.1 1457.76 1221.8 1457.18 1224.4 1457.27 1225.7 1457.77 1227.5 1456.92 1230.4 1457.28 1231.8 1456.44 1233.5 1456.08 1235.8 1456.30 1238.0 1457.51 1240.3 1459.60 1242.1 1458.73 1244.8 1459.87 1246.9 1461.22 1249.4 1460.09 1251.0 1462.21 1253.1 1460.47 1254.7 1459.03 1257.1 1458.55 1258.6 1459.51 1260.3 1459.03 1262.4 1458.45 1264.5 1458.57 1266.0 1458.33 1268.2 1459.32 1269.9 1457.85 1271.9 1458.52 1273.4 1458.63 1275.6 1457.85 1278.3 1458.63 1280.7 1458.63 1282.6 1459.58 1284.2 1460.19 1287.1 1460.08 1289.5 1459.83 1292.2 1461.44 1294.1 1460.49 1296.6 1461.37 1299.1 1461.68 1301.6 1461.26 1303.7 1460.95 1306.0 1462.05 1308.2 1460.46 1309.9 1461.40 1312.0 1463.32 1313.6 1464.45 1315.9 1464.02 1317.8 1465.39 1319.5 1463.00 1321.9 1463.66 1324.1 1461.84 1326.0 1461.19 1328.7 1459.79 1331.3 1458.96 1333.3 1459.88 1335.3 1459.56 1336.8 1459.92 1338.8 1460.00 1341.5 1460.16 1343.6 1458.53 1346.3 1459.31 1347.7 1460.40 1349.2 1460.85 1351.0 1460.42 1352.5 1460.66 1354.9 1460.20 1357.6 1461.37 1360.1 1460.37 1362.2 1460.02 1364.2 1461.00 1366.1 1462.26 1367.9 1460.86 1369.8 1461.65 1371.5 1461.98 1373.8 1462.15 1376.1 1460.54 1378.0 1460.99 1380.6 1461.09 1382.4 1460.50 1385.0 1461.32 1387.3 1460.95 1389.6 1461.36 1391.8 1461.26 1394.0 1460.18 1396.5 1460.19 1399.2 1461.85 1401.6 1460.97 1404.0 1462.02 1406.2 1462.60 1408.5 1462.93 1411.1 1463.10 1413.2 1463.35 1415.2 1463.02 1417.5 1464.53 1419.6 1465.70 1421.0 1465.09 1423.9 1463.03 1426.1 1462.34 1428.0 1461.17 1429.7 1462.69 1432.5 1461.85 1433.8 1463.40 1435.6 1462.47 1437.7 1463.13 1439.8 1463.30 1442.2 1462.99 1444.0 1463.23 1445.8 1464.49 1447.7 1464.48 1449.9 1465.09 1451.4 1465.23 1453.8 1464.53 1456.1 1465.36 1458.4 1466.49 1460.1 1466.10 1462.7 1466.09 1463.8 1465.83 1466.2 1464.53 1468.6 1464.00 1469.9 1463.39 1472.1 1462.44 1475.0 1462.74 1476.9 1463.39 1478.7 1463.43 1480.9 1464.67 1482.6 1466.00 1484.5 1465.80 1486.6 1466.48 1488.6 1467.77 1490.6 1467.33 1492.3 1468.15 1494.1 1468.00 1497.0 1464.90 1498.7 1463.47 1500.9 1461.88 1503.1 1462.07 1504.3 1463.72 1506.7 1465.80 1509.7 1466.26 1511.2 1465.12 1513.2 1463.76 1514.7 1462.11 1516.6 1462.57 1518.7 1462.11 1520.5 1463.09 1522.9 1462.34 1524.0 1464.13 1525.8 1465.75 1529.2 1467.42 1530.9 1467.24 1534.5 1466.63 1535.9 1465.68 1538.0 1465.01 1540.4 1466.55 1542.2 1466.65 1544.6 1468.75 1546.8 1467.49 1548.7 1466.83 1551.5 1467.08 1553.5 1466.72 1556.0 1466.41 1557.9 1465.06 1560.1 1464.65 1561.8 1464.39 1563.8 1463.74 1565.9 1464.63 1568.1 1463.78 1570.3 1463.16 1572.0 1462.56 1574.8 1463.12 1576.4 1463.39 1578.4 1462.19 1580.2 1462.34 1581.7 1463.14 1583.3 1462.82 1586.1 1464.12 1587.4 1464.61 1589.8 1465.09 1592.2 1466.40 1594.6 1465.52 1597.2 1464.61 1598.7 1465.34 1601.5 1465.33 1603.1 1464.99 1604.8 1463.71 1606.5 1463.79 1608.8 1464.45 1611.0 1465.46 1613.5 1465.91 1615.2 1467.62 1617.2 1468.50 1619.1 1467.50 1621.7 1468.36 1623.9 1467.91 1626.3 1469.03 1628.3 1469.03 1630.2 1467.46 1631.5 1467.22 1633.4 1466.71 1635.8 1465.82 1637.5 1466.18 1639.6 1463.40 1641.5 1463.73 1643.1 1464.38 1645.1 1464.15 1647.2 1463.70 1649.8 1465.30 1652.2 1465.30 1654.2 1465.96 1656.1 1466.66 1657.9 1466.60 1659.8 1467.35 1662.0 1467.37 1664.7 1466.26 1666.1 1466.71 1667.9 1466.88 1669.9 1465.05 1672.0 1466.02 1673.6 1465.26 1675.4 1465.29 1677.2 1467.20 1678.9 1466.73 1681.4 1465.55 1683.4 1465.13 1685.7 1465.34 1688.5 1464.41 1690.4 1464.91 1693.1 1465.00 1695.0 1466.15 1696.4 1465.11 1698.3 1466.99 1700.5 1467.61 1702.8 1467.13 1704.5 1466.57 1707.0 1465.22 1708.8 1465.08 1711.3 1464.61 1713.8 1464.54 1716.2 1465.25 1717.8 1465.54 1719.4 1465.34 1720.8 1467.24 1722.9 1464.61 1724.6 1466.55 1726.1 1466.78 1727.8 1468.85 1730.4 1468.81 1732.6 1467.87 1734.3 1467.00 1736.0 1468.28 1737.8 1468.10 1739.4 1468.36 1741.9 1466.65 1744.4 1466.92 1747.0 1466.81 1748.6 1467.93 1750.8 1466.46 1753.3 1465.89 1755.3 1467.12 1757.7 1465.53 1759.2 1467.80 1761.4 1466.94 1763.8 1466.80 1765.8 1466.78 1767.4 1466.45 1770.1 1467.74 1772.6 1467.73 1774.4 1466.39 1776.8 1466.82 1778.5 1465.05 1780.7 1466.09 1783.1 1465.23 1785.3 1465.13 1787.3 1466.77 1789.8 1468.33 1791.8 1467.35 1793.4 1467.50 1795.1 1467.16 1796.8 1467.71 1799.2 1469.50 1800.8 1467.96 1801.0 1467.46"/>
</g>
<g fill="#000">
<rect x="244" y="65" width="7" height="1882"/>
<rect x="1801" y="65" width="7" height="1882"/>
<rect x="244" y="65" width="1564" height="7"/>
<rect x="244" y="533" width="1564" height="8"/>
<rect x="244" y="1002" width="1564" height="7"/>
<rect x="244" y="1471" width="1564" height="7"/>
<rect x="244" y="1940" width="1564" height="7"/>
<rect x="355" y="522" width="7" height="12"/>
<rect x="466" y="508" width="7.4" height="26"/>
<rect x="577" y="522" width="7" height="12"/>
<rect x="688" y="508" width="7.4" height="26"/>
<rect x="800" y="522" width="7" height="12"/>
<rect x="911" y="508" width="7.4" height="26"/>
<rect x="1022" y="522" width="7" height="12"/>
<rect x="1133" y="508" width="7.4" height="26"/>
<rect x="1244" y="522" width="7" height="12"/>
<rect x="1356" y="508" width="7.4" height="26"/>
<rect x="1467" y="522" width="7" height="12"/>
<rect x="1578" y="508" width="7.4" height="26"/>
<rect x="1689" y="522" width="7" height="12"/>
<rect x="251" y="137" width="11" height="7"/>
<rect x="1790" y="137" width="11" height="7"/>
<rect x="251" y="210" width="25" height="7"/>
<rect x="1775" y="210" width="26" height="7"/>
<rect x="251" y="281" width="11" height="7.6"/>
<rect x="1790" y="281" width="11" height="7.6"/>
<rect x="251" y="353" width="25" height="7.6"/>
<rect x="1775" y="353" width="26" height="7.6"/>
<rect x="251" y="426" width="11" height="7"/>
<rect x="1790" y="426" width="11" height="7"/>
<rect x="251" y="497" width="25" height="7"/>
<rect x="1775" y="497" width="26" height="7"/>
<rect x="355" y="991" width="7" height="12"/>
<rect x="466" y="976" width="7.4" height="27"/>
<rect x="577" y="991" width="7" height="12"/>
<rect x="688" y="976" width="7.4" height="27"/>
<rect x="800" y="991" width="7" height="12"/>
<rect x="911" y="976" width="7.4" height="27"/>
<rect x="1022" y="991" width="7" height="12"/>
<rect x="1133" y="976" width="7.4" height="27"/>
<rect x="1244" y="991" width="7" height="12"/>
<rect x="1356" y="976" width="7.4" height="27"/>
<rect x="1467" y="991" width="7" height="12"/>
<rect x="1578" y="976" width="7.4" height="27"/>
<rect x="1689" y="991" width="7" height="12"/>
<rect x="251" y="606" width="11" height="7.6"/>
<rect x="1790" y="606" width="11" height="7.6"/>
<rect x="251" y="679" width="25" height="7"/>
<rect x="1775" y="679" width="26" height="7"/>
<rect x="251" y="750" width="11" height="7"/>
<rect x="1790" y="750" width="11" height="7"/>
<rect x="251" y="822" width="25" height="7"/>
<rect x="1775" y="822" width="26" height="7"/>
<rect x="251" y="895" width="11" height="7"/>
<rect x="1790" y="895" width="11" height="7"/>
<rect x="251" y="967" width="25" height="7"/>
<rect x="1775" y="967" width="26" height="7"/>
<rect x="355" y="1459" width="7" height="13"/>
<rect x="466" y="1445" width="7.4" height="27"/>
<rect x="577" y="1459" width="7" height="13"/>
<rect x="688" y="1445" width="7.4" height="27"/>
<rect x="800" y="1459" width="7" height="13"/>
<rect x="911" y="1445" width="7.4" height="27"/>
<rect x="1022" y="1459" width="7" height="13"/>
<rect x="1133" y="1445" width="7.4" height="27"/>
<rect x="1244" y="1459" width="7" height="13"/>
<rect x="1356" y="1445" width="7.4" height="27"/>
<rect x="1467" y="1459" width="7" height="13"/>
<rect x="1578" y="1445" width="7.4" height="27"/>
<rect x="1689" y="1459" width="7" height="13"/>
<rect x="251" y="1074" width="11" height="7"/>
<rect x="1790" y="1074" width="11" height="7"/>
<rect x="251" y="1147" width="25" height="7"/>
<rect x="1775" y="1147" width="26" height="7"/>
<rect x="251" y="1219" width="11" height="7"/>
<rect x="1790" y="1219" width="11" height="7"/>
<rect x="251" y="1291" width="25" height="7"/>
<rect x="1775" y="1291" width="26" height="7"/>
<rect x="251" y="1364" width="11" height="7"/>
<rect x="1790" y="1364" width="11" height="7"/>
<rect x="251" y="1435.6" width="25" height="7.3"/>
<rect x="1775" y="1435.6" width="26" height="7.3"/>
<rect x="355" y="1928" width="7" height="13"/>
<rect x="466" y="1914" width="7.4" height="27"/>
<rect x="577" y="1928" width="7" height="13"/>
<rect x="688" y="1914" width="7.4" height="27"/>
<rect x="800" y="1928" width="7" height="13"/>
<rect x="911" y="1914" width="7.4" height="27"/>
<rect x="1022" y="1928" width="7" height="13"/>
<rect x="1133" y="1914" width="7.4" height="27"/>
<rect x="1244" y="1928" width="7" height="13"/>
<rect x="1356" y="1914" width="7.4" height="27"/>
<rect x="1467" y="1928" width="7" height="13"/>
<rect x="1578" y="1914" width="7.4" height="27"/>
<rect x="1689" y="1928" width="7" height="13"/>
<rect x="251" y="1543" width="11" height="7"/>
<rect x="1790" y="1543" width="11" height="7"/>
<rect x="251" y="1616" width="25" height="7"/>
<rect x="1775" y="1616" width="26" height="7"/>
<rect x="251" y="1688" width="11" height="7"/>
<rect x="1790" y="1688" width="11" height="7"/>
<rect x="251" y="1759" width="25" height="7.6"/>
<rect x="1775" y="1759" width="26" height="7.6"/>
<rect x="251" y="1832" width="11" height="7.6"/>
<rect x="1790" y="1832" width="11" height="7.6"/>
<rect x="251" y="1903.2" width="25" height="6.9"/>
<rect x="1775" y="1903.2" width="26" height="6.9"/>
<rect x="251" y="535" width="25" height="7"/>
<rect x="1775" y="535" width="26" height="7"/>
<rect x="400" y="72" width="7" height="11"/>
<rect x="556" y="72" width="7" height="25"/>
<rect x="711" y="72" width="7" height="11"/>
<rect x="867" y="72" width="7" height="25"/>
<rect x="1023" y="72" width="7" height="11"/>
<rect x="1178" y="72" width="7" height="25"/>
<rect x="1334" y="72" width="7" height="11"/>
<rect x="1490" y="72" width="7" height="25"/>
<rect x="1645" y="72" width="7" height="11"/>
<rect x="258" y="121.2" width="176" height="3.3"/>
<rect x="258" y="590.2" width="176" height="3.3"/>
<rect x="258" y="1059.2" width="176" height="3.3"/>
<rect x="258" y="1527.2" width="176" height="3.3"/>
</g>
<g stroke="#000" stroke-width="0.9" stroke-linejoin="round">
<text x="211.9" y="86.9" font-size="64.5" letter-spacing="-1.7" text-anchor="end">-12</text>
<text x="211.9" y="231.1" font-size="64.5" letter-spacing="-1.7" text-anchor="end">-8</text>
<text x="211.9" y="375.3" font-size="64.5" letter-spacing="-1.7" text-anchor="end">-4</text>
<text x="211.9" y="519.5" font-size="64.5" letter-spacing="-1.7" text-anchor="end">0</text>
<text x="211.9" y="555.4" font-size="64.5" letter-spacing="-1.7" text-anchor="end">-12</text>
<text x="211.9" y="699.6" font-size="64.5" letter-spacing="-1.7" text-anchor="end">-8</text>
<text x="211.9" y="843.8" font-size="64.5" letter-spacing="-1.7" text-anchor="end">-4</text>
<text x="211.9" y="988.0" font-size="64.5" letter-spacing="-1.7" text-anchor="end">0</text>
<text x="211.9" y="1024.0" font-size="64.5" letter-spacing="-1.7" text-anchor="end">-12</text>
<text x="211.9" y="1168.2" font-size="64.5" letter-spacing="-1.7" text-anchor="end">-8</text>
<text x="211.9" y="1312.4" font-size="64.5" letter-spacing="-1.7" text-anchor="end">-4</text>
<text x="211.9" y="1456.6" font-size="64.5" letter-spacing="-1.7" text-anchor="end">0</text>
<text x="211.9" y="1492.8" font-size="64.5" letter-spacing="-1.7" text-anchor="end">-12</text>
<text x="211.9" y="1637.0" font-size="64.5" letter-spacing="-1.7" text-anchor="end">-8</text>
<text x="211.9" y="1781.2" font-size="64.5" letter-spacing="-1.7" text-anchor="end">-4</text>
<text x="211.9" y="1925.4" font-size="64.5" letter-spacing="-1.7" text-anchor="end">0</text>
</g>
<g stroke="#000" stroke-width="0.3">
<text transform="translate(246.0 2027.3) scale(0.93 1)" x="0.6" y="0" font-size="65" letter-spacing="1.2" text-anchor="middle">250</text>
<text transform="translate(468.2 2027.3) scale(0.93 1)" x="0.6" y="0" font-size="65" letter-spacing="1.2" text-anchor="middle">300</text>
<text transform="translate(690.5 2027.3) scale(0.93 1)" x="0.6" y="0" font-size="65" letter-spacing="1.2" text-anchor="middle">350</text>
<text transform="translate(912.8 2027.3) scale(0.93 1)" x="0.6" y="0" font-size="65" letter-spacing="1.2" text-anchor="middle">400</text>
<text transform="translate(1135.0 2027.3) scale(0.93 1)" x="0.6" y="0" font-size="65" letter-spacing="1.2" text-anchor="middle">450</text>
<text transform="translate(1357.2 2027.3) scale(0.93 1)" x="0.6" y="0" font-size="65" letter-spacing="1.2" text-anchor="middle">500</text>
<text transform="translate(1579.5 2027.3) scale(0.93 1)" x="0.6" y="0" font-size="65" letter-spacing="1.2" text-anchor="middle">550</text>
<text transform="translate(1801.8 2027.3) scale(0.93 1)" x="0.6" y="0" font-size="65" letter-spacing="1.2" text-anchor="middle">600</text>
</g>
<g stroke="#000" stroke-width="1.0" stroke-linejoin="round">
<text x="449.9" y="147.8" font-size="76.6" letter-spacing="0.1">50 <tspan x="568.8" letter-spacing="-2.0">µm</tspan></text>
<text x="449.9" y="616.3" font-size="76.6" letter-spacing="0.1">15 <tspan x="568.8" letter-spacing="-2.0">µm</tspan></text>
<text x="449.9" y="1084.9" font-size="76.6" letter-spacing="0.1">10 <tspan x="568.8" letter-spacing="-2.0">µm</tspan></text>
<text x="449.9" y="1553.7" font-size="76.6" letter-spacing="0.1">5 <tspan x="529.1" letter-spacing="-2.0">µm</tspan></text>
<text x="1117.75" y="222.1" font-size="76.6" letter-spacing="-0.8">437.31 <tspan x="1348.0" dy="-3.2" font-size="77">°</tspan><tspan x="1376.2" dy="3.2">C</tspan></text>
<text x="1096.55" y="708.2" font-size="76.6" letter-spacing="-0.8">433.40 <tspan x="1326.2" dy="-3.2" font-size="77">°</tspan><tspan x="1354.6" dy="3.2">C</tspan></text>
<text x="1096.55" y="1187.7" font-size="76.6" letter-spacing="-0.8">430.93 <tspan x="1326.2" dy="-3.2" font-size="77">°</tspan><tspan x="1354.6" dy="3.2">C</tspan></text>
<text x="1087.75" y="1624.9" font-size="76.6" letter-spacing="-0.8">429.92 <tspan x="1317.5" dy="-3.2" font-size="77">°</tspan><tspan x="1345.6" dy="3.2">C</tspan></text>
<text x="757.9" y="2139.1" font-size="76.6" letter-spacing="-1.15">Temperature <tspan x="1154.4">(</tspan><tspan x="1187.8" dy="-3.2" font-size="77">°</tspan><tspan x="1215.9" dy="3.2">C</tspan><tspan x="1265.8">)</tspan></text>
</g>
<text transform="translate(111.7 1239.3) rotate(-90)" font-size="77.5" letter-spacing="-1.5" stroke="#000" stroke-width="0.5"><tspan x="-1.85">Derivative </tspan><tspan x="327.3">mass </tspan><tspan x="494.75">loss </tspan><tspan x="626.0">(</tspan><tspan x="652.5">% </tspan><tspan x="731.4">min </tspan><tspan x="870.5" dy="-30.3" font-size="54" letter-spacing="0">-1</tspan><tspan x="912.9" dy="30.3">)</tspan></text>
</svg></body></html>
